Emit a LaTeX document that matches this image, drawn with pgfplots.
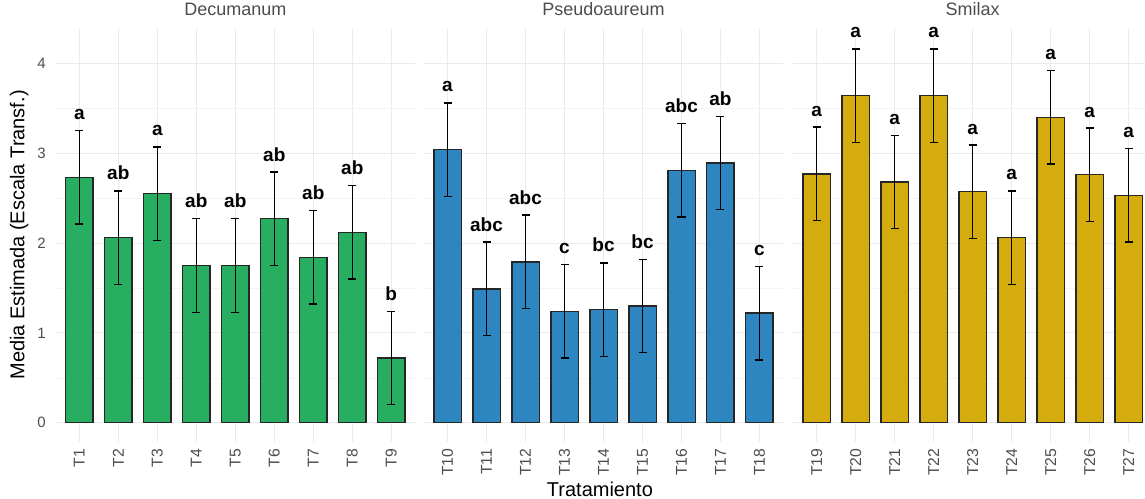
\documentclass[border=0pt]{standalone}
\usepackage{pgfplots}
\usepackage{pgfplotstable}
\pgfplotsset{compat=1.18}
\usepackage{fontspec}
\setmainfont{Liberation Sans}
\definecolor{cgreen}{HTML}{27AE60}
\definecolor{cblue}{HTML}{2E86C1}
\definecolor{cgold}{HTML}{D4AC0D}
\definecolor{tickgray}{HTML}{4D4D4D}
\definecolor{gridmaj}{HTML}{EBEBEB}
\definecolor{gridmin}{HTML}{F4F4F4}

\pgfplotstableread{
x y e lab
1 2.73 0.52 a
2 2.06 0.52 ab
3 2.55 0.52 a
4 1.75 0.52 ab
5 1.75 0.52 ab
6 2.27 0.52 ab
7 1.84 0.52 ab
8 2.12 0.52 ab
9 0.72 0.52 b
}\decumanum
\pgfplotstableread{
x y e lab
1 3.04 0.52 a
2 1.49 0.52 abc
3 1.79 0.52 abc
4 1.24 0.52 c
5 1.26 0.52 bc
6 1.30 0.52 bc
7 2.81 0.52 abc
8 2.89 0.52 ab
9 1.22 0.52 c
}\pseudoaureum
\pgfplotstableread{
x y e lab
1 2.77 0.52 a
2 3.64 0.52 a
3 2.68 0.52 a
4 3.64 0.52 a
5 2.57 0.52 a
6 2.06 0.52 a
7 3.40 0.52 a
8 2.76 0.52 a
9 2.53 0.52 a
}\smilax

\pgfplotsset{
  panel/.style={
    anchor=south west, scale only axis,
    width=358.8bp, height=413.3bp,
    xmin=0.4, xmax=9.6, ymin=-0.21, ymax=4.39,
    clip=false,
    axis line style={draw=none},
    major tick length=0pt, minor tick length=0pt,
    tick style={draw=none},
    xtick={1,...,9},
    ytick={0,1,2,3,4},
    minor ytick={0.5,1.5,2.5,3.5},
    xmajorgrids, ymajorgrids, yminorgrids,
    major grid style={draw=gridmaj, line width=1bp},
    minor grid style={draw=gridmin, line width=0.6bp},
    xticklabel style={font=\fontsize{15.7bp}{16bp}\selectfont, text=tickgray,
      yshift=-7bp, rotate=90, anchor=east, inner sep=0pt},
    yticklabel style={font=\fontsize{15bp}{16bp}\selectfont, text=tickgray,
      anchor=east, inner sep=0pt, xshift=-10bp},
    title style={font=\fontsize{18bp}{18bp}\selectfont, text=tickgray,
      at={(axis description cs:0.5,1.0157)}, anchor=base, inner sep=0pt},
    /pgf/number format/assume math mode=true,
  },
  bars/.style={ybar, bar width=0.7, fill=#1, draw=black!85, line width=1.3bp,
    error bars/.cd, y dir=both, y explicit,
    error mark=-,
    error bar style={black, line width=1.4bp},
    error mark options={black, mark size=4bp, line width=1.4bp, rotate=90}},
  labs/.style={draw=none, mark=none, nodes near coords,
    point meta=explicit symbolic,
    nodes near coords style={anchor=base, yshift=11bp, inner sep=0pt,
      font=\bfseries\fontsize{19bp}{19bp}\selectfont, text=black}},
}

\begin{document}
\begin{tikzpicture}
\useasboundingbox (0,0) rectangle (1145bp,499bp);
% Panel 1
\begin{axis}[panel, at={(55.9bp,57.4bp)},
  title={Decumanum},
  xticklabels={T1,T2,T3,T4,T5,T6,T7,T8,T9},
  ylabel={Media Estimada (Escala Transf.)},
  ylabel style={font=\fontsize{20bp}{20bp}\selectfont,
    at={(axis description cs:-0.0881,0.5)}, anchor=base, inner sep=0pt},
]
\addplot[bars=cgreen] table[x=x, y=y, y error=e] {\decumanum};
\addplot[labs] table[x=x, y expr=\thisrow{y}+\thisrow{e}, meta=lab] {\decumanum};
\end{axis}
% Panel 2
\begin{axis}[panel, at={(424.1bp,57.4bp)},
  title={Pseudoaureum},
  xticklabels={T10,T11,T12,T13,T14,T15,T16,T17,T18},
  yticklabels={},
  xlabel={Tratamiento},
  xlabel style={font=\fontsize{20bp}{20bp}\selectfont,
    at={(axis description cs:0.49,-0.1340)}, anchor=base, inner sep=0pt},
]
\addplot[bars=cblue] table[x=x, y=y, y error=e] {\pseudoaureum};
\addplot[labs] table[x=x, y expr=\thisrow{y}+\thisrow{e}, meta=lab] {\pseudoaureum};
\end{axis}
% Panel 3
\begin{axis}[panel, at={(793.3bp,57.4bp)},
  title={Smilax},
  xticklabels={T19,T20,T21,T22,T23,T24,T25,T26,T27},
  yticklabels={},
]
\addplot[bars=cgold] table[x=x, y=y, y error=e] {\smilax};
\addplot[labs] table[x=x, y expr=\thisrow{y}+\thisrow{e}, meta=lab] {\smilax};
\end{axis}
\end{tikzpicture}
\end{document}
